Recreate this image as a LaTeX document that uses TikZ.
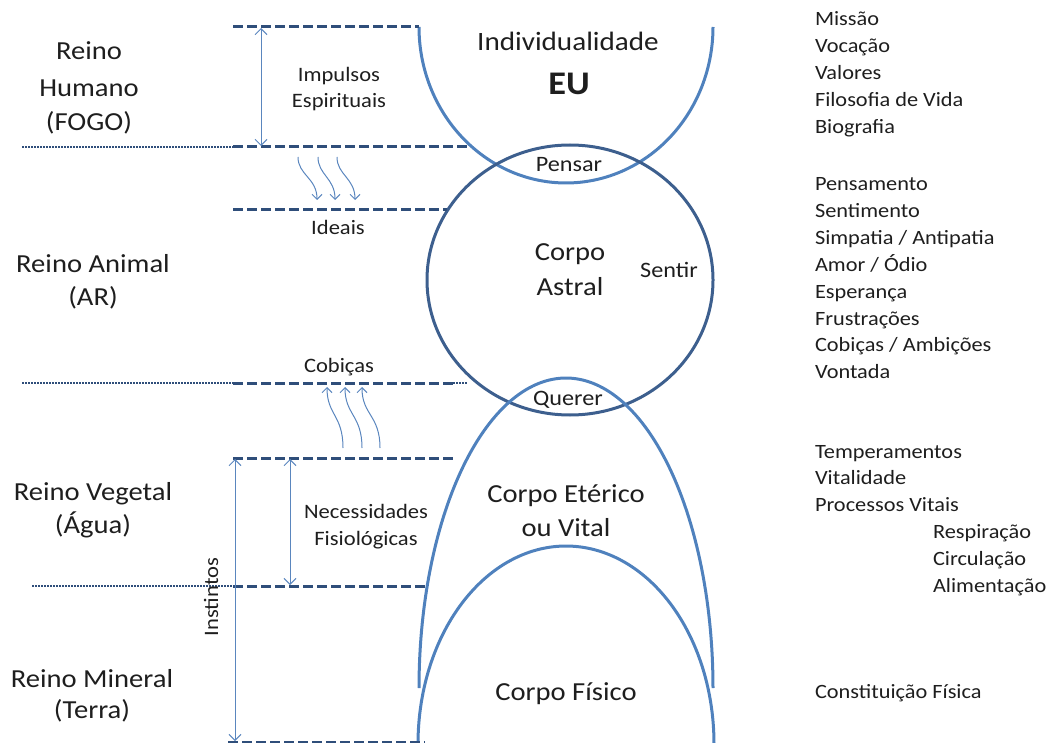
\documentclass[tikz,border=0pt]{standalone}
\usepackage{fontspec}
\setmainfont{Carlito}[FakeStretch=1.1]
\usetikzlibrary{arrows.meta}
\definecolor{arcblue}{HTML}{4F81BD}
\definecolor{astralblue}{HTML}{3D5F8E}
\definecolor{dashblue}{HTML}{2F4E7A}
\definecolor{arrowblue}{HTML}{5A86BE}
\definecolor{txt}{HTML}{1E1E1E}
\begin{document}
\begin{tikzpicture}[x=1pt,y=-1pt,
  every node/.style={inner sep=0pt,outer sep=0pt,text=txt},
  bodyline/.style={line width=3pt,draw=arcblue},
  astralline/.style={line width=3pt,draw=astralblue},
  levelline/.style={line width=3pt,draw=dashblue,dash pattern=on 10pt off 4pt},
  dotline/.style={line width=1.5pt,draw=dashblue,dash pattern=on 1.5pt off 1.5pt},
  dimarrow/.style={line width=1pt,draw=arrowblue,{Straight Barb[length=6pt,width=12pt]}-{Straight Barb[length=6pt,width=12pt]}},
  wavearrow/.style={line width=1pt,draw=arrowblue,-{Straight Barb[length=5pt,width=10pt]}},
  reino/.style={anchor=base,font=\fontsize{26}{30}\selectfont},
  lbl/.style={anchor=base,font=\fontsize{20.5}{24}\selectfont},
  mid/.style={anchor=base,font=\fontsize{22}{26}\selectfont},
  corpo/.style={anchor=base,font=\fontsize{26}{30}\selectfont},
  lst/.style={anchor=base west,font=\fontsize{20.3}{24}\selectfont}
]
\useasboundingbox (0,0) rectangle (1051,743);

% bodies
\draw[bodyline] plot[domain=0:180,samples=120] ({566+147*cos(\x)},{27+156*sin(\x)});
\draw[astralline] (570,280) ellipse [x radius=143,y radius=135];
\draw[bodyline] plot[domain=0:180,samples=120] ({566+147*cos(\x)},{688-310*sin(\x)});
\draw[bodyline] plot[domain=0:180,samples=120] ({566+148*cos(\x)},{744-198*sin(\x)});

% level coordinates
\coordinate (a1) at (233,27);   \coordinate (b1) at (419,27);
\coordinate (d2) at (22,147);   \coordinate (a2) at (233,147);  \coordinate (b2) at (470,147);
\coordinate (a3) at (233,210);  \coordinate (b3) at (447,210);
\coordinate (d4) at (22,383);   \coordinate (a4) at (233,383);  \coordinate (b4) at (453,383); \coordinate (e4) at (468,383);
\coordinate (a5) at (233,458);  \coordinate (b5) at (453,458);
\coordinate (d6) at (32,586);   \coordinate (a6) at (233,586);  \coordinate (b6) at (427,586);
\coordinate (a7) at (228,742);  \coordinate (b7) at (425,742);

\draw[levelline] (a1) -- (b1);
\draw[dotline] (d2) -- (a2);
\draw[levelline] (a2) -- (b2);
\draw[levelline] (a3) -- (b3);
\draw[dotline] (d4) -- (a4);
\draw[levelline] (a4) -- (b4);
\draw[dotline] (b4) -- (e4);
\draw[levelline] (a5) -- (b5);
\draw[dotline] (d6) -- (a6);
\draw[levelline] (a6) -- (b6);
\draw[levelline] (a7) -- (b7);

% dimension arrows
\coordinate (imp1) at (261,28);  \coordinate (imp2) at (261,146);
\coordinate (nec1) at (290,459); \coordinate (nec2) at (290,585);
\coordinate (ins1) at (235,459); \coordinate (ins2) at (235,741);
\draw[dimarrow] (imp1) -- (imp2);
\draw[dimarrow] (nec1) -- (nec2);
\draw[dimarrow] (ins1) -- (ins2);

% wavy arrows down
\foreach \i/\xs/\xe in {1/298/317,2/318/335,3/337/355}{
  \coordinate (ws\i) at (\xs,157);
  \coordinate (we\i) at (\xe,200);
  \draw[wavearrow] (ws\i) .. controls ++(0,18) and ++(0,-22) .. (we\i);
}
% wavy arrows up
\foreach \i/\xs/\xe in {1/343/327,2/362/345,3/380/362}{
  \coordinate (us\i) at (\xs,448);
  \coordinate (ue\i) at (\xe,387);
  \draw[wavearrow] (us\i) .. controls ++(0,-33) and ++(0,28) .. (ue\i);
}

% central texts
\node[anchor=base,font=\fontsize{26.5}{30}\selectfont] (indiv) at (568,51) {Individualidade};
\node[anchor=base,font=\fontsize{33}{36}\selectfont\bfseries] (eu) at (569,95) {EU};
\node[lbl] (imp) at (339,82) {Impulsos};
\node[lbl] (esp) at (339,108) {Espirituais};
\node[mid] (pensar) at (569,172) {Pensar};
\node[lbl] (ideais) at (338,235) {Ideais};
\node[corpo] (corpo1) at (570,260) {Corpo};
\node[corpo] (corpo2) at (570,295) {Astral};
\node[mid] (sentir) at (669,277) {Sentir};
\node[lbl] (cobicas) at (339,372) {Cobiças};
\node[mid] (querer) at (568,405) {Querer};
\node[corpo] (eter1) at (566,502) {Corpo Etérico};
\node[corpo] (eter2) at (566,536) {ou Vital};
\node[lbl] (nec) at (366,518) {Necessidades};
\node[lbl] (fis) at (366,545) {Fisiológicas};
\node[lbl,rotate=90] (inst) at (218,597) {Instintos};
\node[corpo] (fisico) at (566,700) {Corpo Físico};

% left texts
\node[reino] (rh1) at (89,60) {Reino};
\node[reino] (rh2) at (89,97) {Humano};
\node[reino] (rh3) at (89,131) {(FOGO)};
\node[reino] (ra1) at (93,272) {Reino Animal};
\node[reino] (ra2) at (93,305) {(AR)};
\node[reino] (rv1) at (93,500) {Reino Vegetal};
\node[reino] (rv2) at (93,533) {(Água)};
\node[reino] (rm1) at (92,687) {Reino Mineral};
\node[reino] (rm2) at (92,718) {(Terra)};

% right lists
\foreach \t [count=\i] in {Missão,Vocação,Valores,Filosofia de Vida,Biografia}{
  \node[lst] (la\i) at (815,{26+26.8*(\i-1)}) {\t};
}
\foreach \t [count=\i] in {Pensamento,Sentimento,Simpatia / Antipatia,Amor / Ódio,Esperança,Frustrações,Cobiças / Ambições,Vontada}{
  \node[lst] (lb\i) at (815,{191+26.8*(\i-1)}) {\t};
}
\foreach \t [count=\i] in {Temperamentos,Vitalidade,Processos Vitais}{
  \node[lst] (lc\i) at (815,{458+26.8*(\i-1)}) {\t};
}
\foreach \t [count=\i] in {Respiração,Circulação,Alimentação}{
  \node[lst] (ld\i) at (933,{538.4+26.8*(\i-1)}) {\t};
}
\node[lst] (le1) at (815,698) {Constituição Física};
\end{tikzpicture}
\end{document}
